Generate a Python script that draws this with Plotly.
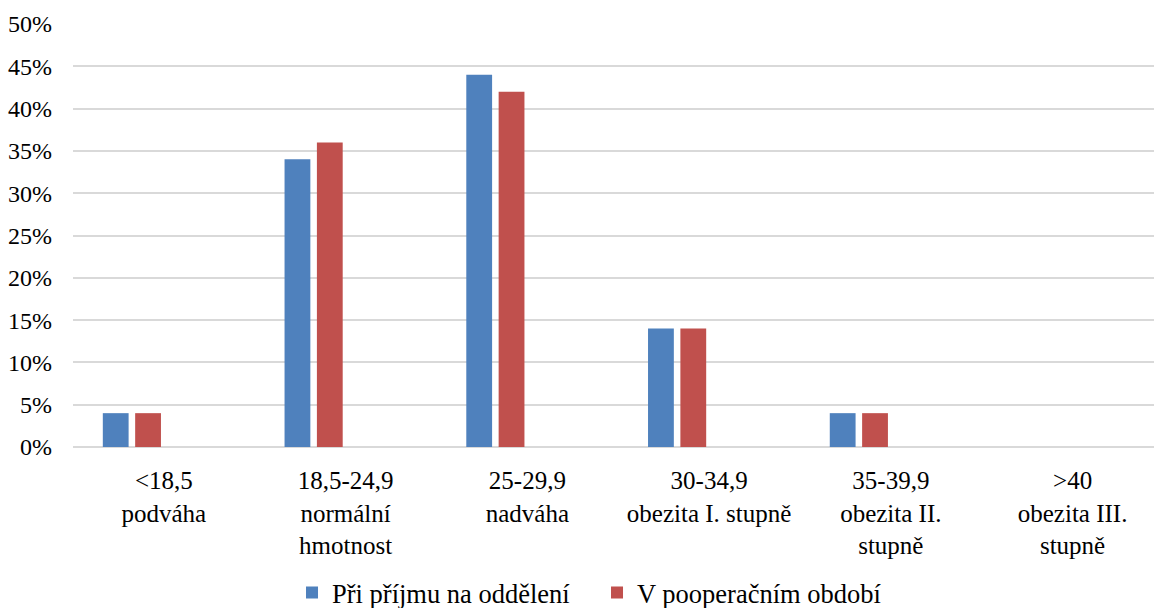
import plotly.graph_objects as go

# BMI categories (two-line labels) and share of patients in each group
categories = [
    "<18,5<br>podváha",
    "18,5-24,9<br>normální<br>hmotnost",
    "25-29,9<br>nadváha",
    "30-34,9<br>obezita I. stupně",
    "35-39,9<br>obezita II.<br>stupně",
    ">40<br>obezita III.<br>stupně",
]
pri_prijmu = [4, 34, 44, 14, 4, 0]
po_operaci = [4, 36, 42, 14, 4, 0]
series_names = ["Při příjmu na oddělení", "V pooperačním období"]
y_ticks = [0, 5, 10, 15, 20, 25, 30, 35, 40, 45, 50]
y_tick_text = [f"{v}%" for v in y_ticks]

FONT = "Liberation Serif, Times New Roman, serif"
BLUE = "#4F81BD"
RED = "#C0504D"

fig = go.Figure()
fig.add_trace(go.Bar(
    x=categories, y=pri_prijmu, name=series_names[0],
    marker=dict(color=BLUE, line=dict(width=0)),
    width=0.142, offset=-0.336,
))
fig.add_trace(go.Bar(
    x=categories, y=po_operaci, name=series_names[1],
    marker=dict(color=RED, line=dict(width=0)),
    width=0.142, offset=-0.158,
))

fig.update_layout(
    width=1154, height=608,
    margin=dict(l=73, r=0, t=24, b=161),
    paper_bgcolor="white", plot_bgcolor="white",
    barmode="overlay",
    font=dict(family=FONT, size=24, color="black"),
    showlegend=True,
    legend=dict(
        orientation="h",
        x=0.2026, xanchor="left",
        yref="container", y=0.025, yanchor="middle",
        font=dict(family=FONT, size=26.5, color="black"),
        entrywidth=260, entrywidthmode="pixels",
        itemwidth=30, tracegroupgap=0,
    ),
    xaxis=dict(
        type="category", range=[-0.5, 5.448],
        showgrid=False, showline=False, zeroline=False, ticks="",
        tickfont=dict(family=FONT, size=25),
        ticklabelstandoff=16,
    ),
    yaxis=dict(
        range=[0, 50], tickvals=y_ticks, ticktext=y_tick_text,
        showgrid=True, gridcolor="#D9D9D9", gridwidth=1.5,
        zeroline=True, zerolinecolor="#D9D9D9", zerolinewidth=1.5,
        showline=False, ticks="",
        tickfont=dict(family=FONT, size=24),
        ticklabelstandoff=20,
    ),
)

fig.write_html("out.html")
